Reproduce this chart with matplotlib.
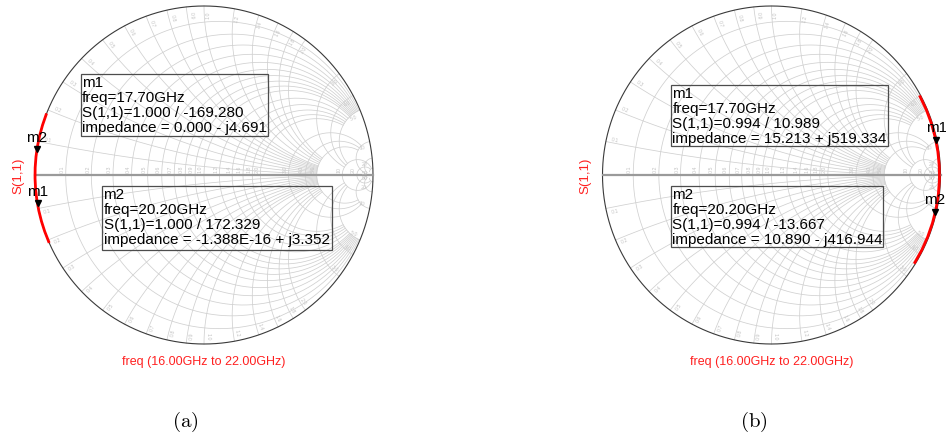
import numpy as np
import matplotlib.pyplot as plt
from matplotlib.patches import Rectangle
from matplotlib.transforms import ScaledTranslation

plt.rcParams['font.family'] = ['Liberation Sans', 'DejaVu Sans']
plt.rcParams['mathtext.fontset'] = 'cm'

# S(1,1) sweep, 16 GHz to 22 GHz in 0.5 GHz steps
freq_ghz = [16.0, 16.5, 17.0, 17.5, 18.0, 18.5, 19.0, 19.5, 20.0, 20.5, 21.0, 21.5, 22.0]
s11_mag_a = [1.000] * 13
s11_ang_a = [-156.8, -160.5, -164.1, -167.8, -171.5, -175.2, -178.9,
             177.5, 173.8, 170.1, 166.5, 162.8, 159.1]
s11_mag_b = [0.994] * 13
s11_ang_b = [27.8, 22.8, 17.9, 13.0, 8.0, 3.1, -1.8,
             -6.8, -11.7, -16.6, -21.6, -26.5, -31.4]

# marker readouts
marker_names = ['m1', 'm2']
marker_freq = [17.70, 20.20]
marker_mag_a = [1.000, 1.000]
marker_ang_a = [-169.280, 172.329]
marker_imp_a = ['0.000 - j4.691', '-1.388E-16 + j3.352']
marker_mag_b = [0.994, 0.994]
marker_ang_b = [10.989, -13.667]
marker_imp_b = ['15.213 + j519.334', '10.890 - j416.944']

# smith grid: (value, limit of the other coordinate)
small = [0.1, 0.2, 0.3, 0.4, 0.5, 0.6, 0.7, 0.8, 0.9, 1.0, 1.2, 1.4, 1.6, 1.8, 2.0]
r_lines = ([(v, 5.0) for v in small]
           + [(v, 10.0) for v in [3.0, 4.0, 5.0]]
           + [(v, 50.0) for v in [10.0, 20.0]])
x_lines = ([(v, 5.0) for v in small]
           + [(v, 10.0) for v in [3.0, 4.0, 5.0]]
           + [(v, 50.0) for v in [10.0, 20.0, 50.0]])

W, H = 946, 439
R = 169.0
HALF = 210.0
GRID = '#d0d0d0'
LBL = '#c4c4c4'

fig = plt.figure(figsize=(W / 100, H / 100), dpi=100)


def gamma(z):
    return (z - 1) / (z + 1)


def fmt(v):
    return '%d' % v if v >= 10 else '%.1f' % v


def chart_axes(cx, cy):
    ax = fig.add_axes([(cx - HALF) / W, (H - cy - HALF) / H, 2 * HALF / W, 2 * HALF / H])
    lim = HALF / R
    ax.set_xlim(-lim, lim)
    ax.set_ylim(-lim, lim)
    ax.axis('off')
    return ax


def draw_grid(ax):
    for r, xmax in r_lines:
        x = np.linspace(-xmax, xmax, 3000)
        g = gamma(r + 1j * x)
        ax.plot(g.real, g.imag, color=GRID, lw=0.55, zorder=1)
        if r <= 20:
            gr = gamma(r)
            ax.text(gr.real - 0.006, 0.018, fmt(r), rotation=90, fontsize=3.8,
                    color=LBL, ha='right', va='bottom')
    for xv, rmax in x_lines:
        r = np.linspace(0, rmax, 3000)
        for s in (1, -1):
            g = gamma(r + 1j * s * xv)
            ax.plot(g.real, g.imag, color=GRID, lw=0.55, zorder=1)
            th = np.angle(gamma(1j * s * xv)) - s * 0.025
            rot = np.degrees(th)
            if np.cos(th) < 0:
                rot -= 180
            ax.text(0.95 * np.cos(th), 0.95 * np.sin(th), fmt(xv), rotation=rot,
                    fontsize=3.8, color=LBL, ha='center', va='center',
                    rotation_mode='anchor')
    t = np.linspace(0, 2 * np.pi, 721)
    ax.plot(np.cos(t), np.sin(t), color='#3a3a3a', lw=0.8, zorder=2)
    ax.plot([-1, 1], [0, 0], color='#9a9a9a', lw=1.6, zorder=2)


def draw_chart(cx, cy, mag, ang, m_mag, m_ang, m_imp, boxes, tag, tag_x):
    ax = chart_axes(cx, cy)
    draw_grid(ax)
    a = np.radians(ang)
    ax.plot(np.array(mag) * np.cos(a), np.array(mag) * np.sin(a),
            color='#ff0000', lw=2.0, zorder=5)

    tri = ax.transData + ScaledTranslation(0, 0.03, fig.dpi_scale_trans)
    for name, mm, ma in zip(marker_names, m_mag, m_ang):
        px = mm * np.cos(np.radians(ma))
        py = mm * np.sin(np.radians(ma))
        ax.plot(px, py, marker='v', ms=5, color='black', transform=tri, zorder=6)
        ax.annotate(name, (px, py), xytext=(0, 8.5), textcoords='offset points',
                    ha='center', va='baseline', fontsize=11, zorder=7,
                    annotation_clip=False)

    for i, (x0, y0, x1, y1) in enumerate(boxes):
        ax.add_patch(Rectangle((x0 / R, -y1 / R), (x1 - x0) / R, (y1 - y0) / R,
                               fill=False, ec='#4d4d4d', lw=0.9, zorder=6))
        lines = [marker_names[i],
                 'freq=%.2fGHz' % marker_freq[i],
                 'S(1,1)=%.3f / %.3f' % (m_mag[i], m_ang[i]),
                 'impedance = ' + m_imp[i]]
        for k, s in enumerate(lines):
            ax.text((x0 + 1.5) / R, -(y0 + 8 + 15 * k) / R, s, fontsize=11,
                    ha='left', va='center', zorder=7)

    ax.text(-186 / R, 0, 'S(1,1)', rotation=90, color='#ff2020', fontsize=9.5,
            ha='center', va='center')
    ax.text(0, -186 / R, 'freq (16.00GHz to 22.00GHz)', color='#ff2020',
            fontsize=9, ha='center', va='center')
    fig.text(tag_x / W, 1 - 422 / H, r'$\mathrm{%s}$' % tag, fontsize=15,
             ha='center', va='center')


draw_chart(204, 176, s11_mag_a, s11_ang_a, marker_mag_a, marker_ang_a, marker_imp_a,
           [(-123.3, -101, 64, -39), (-102, 11, 128, 75)], '(a)', 185)
draw_chart(771.5, 176, s11_mag_b, s11_ang_b, marker_mag_b, marker_ang_b, marker_imp_b,
           [(-100.5, -90, 116.5, -29), (-100.5, 11, 111.5, 72)], '(b)', 754)

fig.savefig('out.png', dpi=100)
